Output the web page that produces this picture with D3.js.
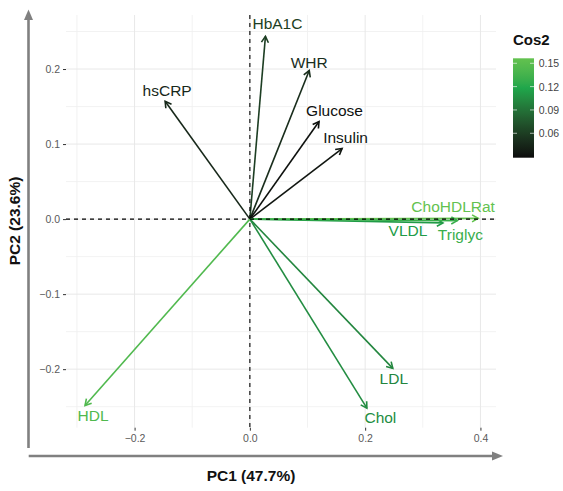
<!DOCTYPE html>
<html>
<head>
<meta charset="utf-8">
<script src="https://cdn.jsdelivr.net/npm/d3@7"></script>
<style>
  html, body { margin: 0; padding: 0; background: #fff; }
  svg { display: block; font-family: "Liberation Sans", Arial, Helvetica, sans-serif; }
</style>
</head>
<body>
<svg id="chart" width="563" height="491"></svg>
<script>
// ---- data ----
const variables = ["HbA1C", "hsCRP", "WHR", "Glucose", "Insulin", "ChoHDLRat", "VLDL", "Triglyc", "LDL", "Chol", "HDL"];
const pc1 = [0.027, -0.147, 0.103, 0.120, 0.160, 0.396, 0.335, 0.360, 0.248, 0.203, -0.286];
const pc2 = [0.2435, 0.157, 0.198, 0.130, 0.094, 0.001, -0.005, -0.002, -0.199, -0.252, -0.2485];
// label nudges (px) for repelled text
const labelDx = [12, 2, 0, 15.5, 3.5, -25, -35, 3, 1, 13.5, 8];
const labelDy = [-13, -11, -8.5, -11, -10.7, -12.3, 8, 14, 10, 9, 10];

const xTicks = [-0.2, 0.0, 0.2, 0.4];
const xMinor = [-0.3, -0.1, 0.1, 0.3];
const yTicks = [-0.2, -0.1, 0.0, 0.1, 0.2];
const yMinor = [-0.25, -0.15, -0.05, 0.05, 0.15, 0.25];
const legendTicks = [0.06, 0.09, 0.12, 0.15];
const cos2Domain = [0.0286, 0.1564];
const gradientCols = ["#0b0b0b", "#1fa64b", "#63c24f"];

const xTitle = "PC1 (47.7%)";
const yTitle = "PC2 (23.6%)";
const legendTitle = "Cos2";

// ---- setup ----
const svg = d3.select("#chart");
const panel = { left: 66, right: 496, top: 15, bottom: 427.7 };
const x = d3.scaleLinear().domain([-0.319, 0.427]).range([panel.left, panel.right]);
const y = d3.scaleLinear().domain([-0.278, 0.272]).range([panel.bottom, panel.top]);

const cos2 = variables.map((v, i) => pc1[i] * pc1[i] + pc2[i] * pc2[i]);
const cMid = (cos2Domain[0] + cos2Domain[1]) / 2;
const color = d3.scaleLinear()
  .domain([cos2Domain[0], 0.118, cos2Domain[1]])
  .range(gradientCols)
  .interpolate(d3.interpolateLab)
  .clamp(true);

const fmt = v => (v < 0 ? "\u2212" : "") + Math.abs(v).toFixed(1);

// grid
const grid = svg.append("g");
grid.selectAll(".vminor").data(xMinor).join("line")
  .attr("x1", d => x(d)).attr("x2", d => x(d))
  .attr("y1", panel.top).attr("y2", panel.bottom)
  .attr("stroke", "#efefef").attr("stroke-width", 0.8);
grid.selectAll(".hminor").data(yMinor).join("line")
  .attr("y1", d => y(d)).attr("y2", d => y(d))
  .attr("x1", panel.left).attr("x2", panel.right)
  .attr("stroke", "#efefef").attr("stroke-width", 0.8);
grid.selectAll(".vmajor").data(xTicks).join("line")
  .attr("x1", d => x(d)).attr("x2", d => x(d))
  .attr("y1", panel.top).attr("y2", panel.bottom)
  .attr("stroke", "#e8e8e8").attr("stroke-width", 1);
grid.selectAll(".hmajor").data(yTicks).join("line")
  .attr("y1", d => y(d)).attr("y2", d => y(d))
  .attr("x1", panel.left).attr("x2", panel.right)
  .attr("stroke", "#e8e8e8").attr("stroke-width", 1);

// axes ticks & labels via d3 axes
const xAxis = d3.axisBottom(x).tickValues(xTicks).tickFormat(fmt).tickSize(3).tickPadding(4);
const yAxis = d3.axisLeft(y).tickValues(yTicks).tickFormat(fmt).tickSize(3).tickPadding(3);
const gx = svg.append("g").attr("transform", `translate(0,${panel.bottom})`).call(xAxis);
const gy = svg.append("g").attr("transform", `translate(${panel.left},0)`).call(yAxis);
[gx, gy].forEach(g => {
  g.select(".domain").remove();
  g.selectAll(".tick line").attr("stroke", "#333").attr("stroke-width", 1);
  g.selectAll(".tick text").attr("fill", "#5a5a5a").attr("font-size", "10.5px")
    .attr("font-family", "Liberation Sans, Arial, sans-serif");
});

// arrows
const ox = x(0), oy = y(0);
const arrows = svg.append("g");
variables.forEach((v, i) => {
  const tx = x(pc1[i]), ty = y(pc2[i]);
  const c = color(cos2[i]);
  const ang = Math.atan2(ty - oy, tx - ox);
  const L = 7, a = Math.PI / 6;
  const p1 = [tx - L * Math.cos(ang - a), ty - L * Math.sin(ang - a)];
  const p2 = [tx - L * Math.cos(ang + a), ty - L * Math.sin(ang + a)];
  arrows.append("line")
    .attr("x1", ox).attr("y1", oy).attr("x2", tx).attr("y2", ty)
    .attr("stroke", c).attr("stroke-width", 1.6);
  arrows.append("path")
    .attr("d", `M${p1[0]},${p1[1]}L${tx},${ty}L${p2[0]},${p2[1]}`)
    .attr("fill", "none").attr("stroke", c).attr("stroke-width", 1.6)
    .attr("stroke-linejoin", "miter");
});

// dashed reference lines
svg.append("line")
  .attr("x1", x(0)).attr("x2", x(0)).attr("y1", panel.top).attr("y2", panel.bottom)
  .attr("stroke", "#000").attr("stroke-width", 1.1).attr("stroke-dasharray", "4,4");
svg.append("line")
  .attr("y1", y(0)).attr("y2", y(0)).attr("x1", panel.left).attr("x2", panel.right)
  .attr("stroke", "#000").attr("stroke-width", 1.1).attr("stroke-dasharray", "4,4");

// labels
svg.append("g").selectAll("text").data(variables).join("text")
  .attr("x", (d, i) => x(pc1[i]) + labelDx[i])
  .attr("y", (d, i) => y(pc2[i]) + labelDy[i])
  .attr("text-anchor", "middle")
  .attr("dominant-baseline", "central")
  .attr("font-size", "15.5px")
  .attr("fill", (d, i) => color(cos2[i]))
  .text(d => d);

// outer gray axis arrows
const axCol = "#808080";
svg.append("line").attr("x1", 28.5).attr("x2", 28.5).attr("y1", 448).attr("y2", 18)
  .attr("stroke", axCol).attr("stroke-width", 2.6);
svg.append("path").attr("d", "M28.5,9.5L33,20L24,20Z").attr("fill", axCol);
svg.append("line").attr("x1", 28.7).attr("x2", 494).attr("y1", 456).attr("y2", 456)
  .attr("stroke", axCol).attr("stroke-width", 2.6);
svg.append("path").attr("d", "M503,456L492,451.5L492,460.5Z").attr("fill", axCol);

// axis titles
svg.append("text").attr("x", 251).attr("y", 480.5).attr("text-anchor", "middle")
  .attr("font-size", "15.5px").attr("font-weight", "bold").attr("fill", "#111").text(xTitle);
svg.append("text").attr("transform", "translate(19.5,221) rotate(-90)").attr("text-anchor", "middle")
  .attr("font-size", "15.5px").attr("font-weight", "bold").attr("fill", "#111").text(yTitle);

// legend
const lg = { x: 513, w: 21, top: 58.3, bottom: 157.7 };
const ly = d3.scaleLinear().domain(cos2Domain).range([lg.bottom, lg.top]);
const defs = svg.append("defs");
const grad = defs.append("linearGradient").attr("id", "cosgrad")
  .attr("x1", 0).attr("y1", 1).attr("x2", 0).attr("y2", 0);
d3.range(0, 1.0001, 0.05).forEach(t => {
  const v = cos2Domain[0] + t * (cos2Domain[1] - cos2Domain[0]);
  grad.append("stop").attr("offset", t).attr("stop-color", color(v));
});
svg.append("rect").attr("x", lg.x).attr("y", lg.top).attr("width", lg.w)
  .attr("height", lg.bottom - lg.top).attr("fill", "url(#cosgrad)");
legendTicks.forEach(t => {
  svg.append("line").attr("x1", lg.x).attr("x2", lg.x + 4).attr("y1", ly(t)).attr("y2", ly(t))
    .attr("stroke", "#fff").attr("stroke-width", 0.8).attr("opacity", 0.8);
  svg.append("line").attr("x1", lg.x + lg.w - 4).attr("x2", lg.x + lg.w).attr("y1", ly(t)).attr("y2", ly(t))
    .attr("stroke", "#fff").attr("stroke-width", 0.8).attr("opacity", 0.8);
});
svg.append("g").selectAll("text").data(legendTicks).join("text")
  .attr("x", 538.7).attr("y", d => ly(d)).attr("dominant-baseline", "central")
  .attr("font-size", "10.5px").attr("fill", "#444").text(d => d.toFixed(2));
svg.append("text").attr("x", 513).attr("y", 44.5).attr("font-size", "15px")
  .attr("font-weight", "bold").attr("fill", "#111").text(legendTitle);
</script>
</body>
</html>
